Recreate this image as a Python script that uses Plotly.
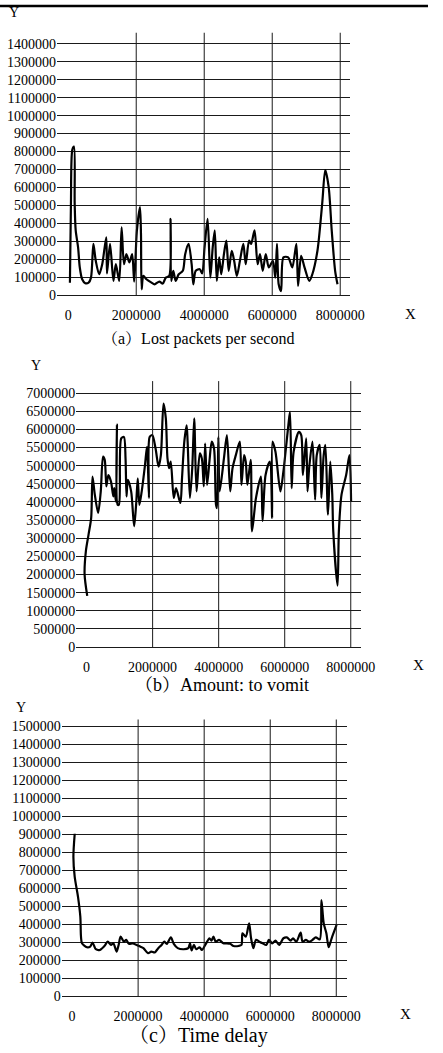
import plotly.graph_objects as go

# ---------------- data (x in millions) ----------------
# (a) Lost packets per second
XA = [0.05,0.08,0.12,0.17,0.19,0.22,0.29,0.34,0.41,0.50,0.60,0.67,0.74,0.81,0.91,1.00,1.12,1.14,1.23,1.33,
      1.40,1.50,1.57,1.64,1.71,1.80,1.88,1.94,2.02,2.11,2.14,2.16,2.21,2.30,2.45,2.54,2.68,2.78,2.87,2.97,
      3.01,3.03,3.09,3.16,3.25,3.37,3.44,3.54,3.63,3.68,3.75,3.87,3.94,4.01,4.10,4.18,4.25,4.31,4.37,4.44,
      4.50,4.58,4.65,4.72,4.81,4.88,4.96,5.05,5.15,5.22,5.32,5.38,5.48,5.57,5.64,5.72,5.81,5.90,6.02,6.09,
      6.14,6.19,6.26,6.33,6.47,6.59,6.71,6.76,6.85,6.95,7.09,7.18,7.33,7.47,7.56,7.66,7.75,7.85,7.92]
YA = [69000,510000,810000,828000,510000,360000,266000,154000,88000,66000,69000,97000,285000,191000,116000,172000,322000,120000,285000,79000,
      172000,79000,378000,172000,228000,182000,228000,75000,360000,490000,341000,32000,107000,88000,69000,60000,75000,64000,97000,107000,
      425000,79000,135000,79000,116000,135000,228000,285000,172000,60000,135000,144000,120000,266000,425000,97000,266000,360000,79000,210000,
      116000,228000,303000,135000,247000,191000,107000,191000,285000,172000,303000,285000,360000,172000,228000,135000,228000,154000,191000,97000,
      285000,60000,22000,210000,210000,154000,285000,51000,219000,154000,79000,116000,247000,510000,697000,603000,360000,135000,60000]

# (b) Amount: to vomit
XB = [0.02,-0.06,-0.02,0.06,0.14,0.18,0.25,0.35,0.43,0.50,0.55,0.60,0.66,0.74,0.81,0.84,0.89,0.92,0.94,0.98,
      1.05,1.13,1.18,1.21,1.25,1.35,1.44,1.50,1.55,1.60,1.67,1.77,1.83,1.89,1.91,1.99,2.09,2.18,2.25,2.33,
      2.40,2.45,2.50,2.55,2.64,2.71,2.84,2.89,2.96,3.03,3.06,3.13,3.20,3.26,3.33,3.43,3.49,3.55,3.59,3.65,
      3.72,3.79,3.86,3.92,3.95,3.99,4.03,4.16,4.25,4.35,4.42,4.52,4.64,4.69,4.77,4.82,4.87,4.97,5.01,5.13,
      5.28,5.33,5.42,5.55,5.62,5.63,5.72,5.87,5.96,6.11,6.16,6.21,6.27,6.43,6.50,6.55,6.65,6.69,6.74,6.84,
      6.92,6.97,7.06,7.11,7.18,7.23,7.31,7.38,7.44,7.47,7.60,7.64,7.72,7.86,7.96,8.01]
YB = [1410000,2010000,2650000,3100000,3560000,4700000,4200000,3700000,4290000,5250000,5160000,4430000,4740000,4560000,4150000,4380000,4010000,6130000,3920000,3920000,
      5750000,5790000,5200000,4150000,4610000,4290000,3330000,3920000,4650000,3920000,4290000,5020000,5520000,4110000,5790000,5840000,5470000,4970000,5290000,6710000,
      6300000,5200000,4930000,5110000,4110000,4380000,3970000,4650000,5660000,6110000,5660000,4110000,4930000,6300000,4290000,5340000,5200000,4430000,5610000,4470000,
      5110000,5660000,5470000,3920000,3830000,5790000,4290000,5200000,5840000,4290000,4930000,5290000,5660000,4470000,5290000,5110000,4470000,5160000,3190000,4110000,
      4700000,3470000,4740000,5110000,3560000,5660000,5380000,4290000,4840000,6110000,6480000,4380000,5380000,5930000,5840000,4740000,5750000,4290000,4930000,5660000,
      4060000,5290000,5570000,4110000,5290000,5570000,3650000,5110000,4200000,3190000,1690000,3190000,4200000,4740000,5290000,4010000]

# (c) Time delay
XC = [0.08,0.04,0.08,0.18,0.25,0.27,0.30,0.45,0.55,0.62,0.72,0.84,0.98,1.08,1.18,1.25,1.35,1.41,1.47,1.57,
      1.64,1.72,1.83,1.96,2.06,2.16,2.30,2.40,2.50,2.61,2.71,2.79,2.87,2.99,3.08,3.20,3.38,3.52,3.57,3.62,
      3.69,3.76,3.86,3.93,4.06,4.16,4.22,4.28,4.35,4.45,4.58,4.69,4.79,4.89,5.04,5.13,5.16,5.26,5.36,5.42,
      5.49,5.57,5.67,5.77,5.88,5.96,6.06,6.16,6.27,6.40,6.50,6.62,6.69,6.79,6.92,6.98,7.08,7.18,7.28,7.38,
      7.50,7.55,7.62,7.70,7.77,7.86,8.01]
YC = [904000,775000,664000,553000,443000,332000,295000,273000,277000,299000,262000,258000,280000,304000,286000,295000,249000,286000,332000,304000,
      314000,292000,295000,286000,277000,268000,240000,249000,244000,268000,286000,304000,292000,328000,292000,268000,262000,268000,295000,255000,
      286000,262000,273000,258000,295000,323000,310000,332000,304000,314000,295000,295000,292000,280000,280000,286000,351000,332000,406000,323000,
      268000,314000,304000,295000,286000,314000,295000,310000,286000,323000,328000,310000,323000,304000,354000,304000,314000,304000,314000,328000,
      317000,535000,406000,351000,273000,323000,397000]

X_TICKS = [0, 2, 4, 6, 8]
X_TICK_LABELS = ["0", "2000000", "4000000", "6000000", "8000000"]
X_GRID = [2, 4, 6, 8]
YA_TICKS = [0,100000,200000,300000,400000,500000,600000,700000,800000,900000,1000000,1100000,1200000,1300000,1400000]
YB_TICKS = [0,500000,1000000,1500000,2000000,2500000,3000000,3500000,4000000,4500000,5000000,5500000,6000000,6500000,7000000]
YC_TICKS = [0,100000,200000,300000,400000,500000,600000,700000,800000,900000,1000000,1100000,1200000,1300000,1400000,1500000]
CAPTIONS = ["（a）Lost packets per second", "（b）Amount: to vomit", "（c）Time delay"]

# ---------------- layout ----------------
W, H = 443, 1053
SERIF = "Liberation Serif, Times New Roman, Noto Serif CJK SC, Noto Sans CJK SC, serif"
GRID = "#1a1a1a"

panels = [
    dict(x=XA, y=YA, yt=YA_TICKS, xd=(59, 362), yd=(33, 297.3), xr=(-0.33, 8.28), yr=(0, 1462000),
         ylab=(15, 13), xlab=(425, 316), cap=(205, 342), capsize=16),
    dict(x=XB, y=YB, yt=YB_TICKS, xd=(79, 374), yd=(384, 652), xr=(-0.31, 8.32), yr=(0, 7330000),
         ylab=(37, 368), xlab=(433, 670), cap=(230, 690), capsize=18),
    dict(x=XC, y=YC, yt=YC_TICKS, xd=(64, 359), yd=(725, 1004), xr=(-0.31, 8.32), yr=(0, 1539000),
         ylab=(22, 713), xlab=(420, 1022), cap=(205, 1043), capsize=20),
]

fig = go.Figure()
layout = dict(width=W, height=H, margin=dict(l=0, r=0, t=0, b=0),
              paper_bgcolor="white", plot_bgcolor="white", showlegend=False,
              font=dict(family=SERIF, color="black", size=14))
annotations = []
shapes = []

for i, p in enumerate(panels, start=1):
    xa = "x" if i == 1 else f"x{i}"
    ya = "y" if i == 1 else f"y{i}"
    fig.add_trace(go.Scatter(x=p["x"], y=p["y"], mode="lines", xaxis=xa, yaxis=ya,
                             line=dict(color="black", width=2.2, shape="spline", smoothing=0.8),
                             hoverinfo="skip"))
    xk = "xaxis" if i == 1 else f"xaxis{i}"
    yk = "yaxis" if i == 1 else f"yaxis{i}"
    layout[xk] = dict(domain=[p["xd"][0] / W, p["xd"][1] / W], range=list(p["xr"]), anchor=ya,
                      tickvals=X_TICKS, ticktext=X_TICK_LABELS, showgrid=False, zeroline=False,
                      showline=False, ticks="", ticklabelstandoff=10,
                      tickfont=dict(family=SERIF, size=14, color="black"))
    layout[yk] = dict(domain=[1 - p["yd"][1] / H, 1 - p["yd"][0] / H], range=list(p["yr"]), anchor=xa,
                      tickvals=p["yt"], ticktext=[str(v) for v in p["yt"]], showgrid=True,
                      gridcolor=GRID, gridwidth=1, zeroline=True, zerolinecolor=GRID, zerolinewidth=1,
                      showline=False, ticks="", tickfont=dict(family=SERIF, size=14, color="black"))
    for gx in X_GRID:
        shapes.append(dict(type="line", xref=xa, yref=f"{ya} domain", x0=gx, x1=gx, y0=0, y1=1,
                           line=dict(color=GRID, width=1)))
    annotations.append(dict(text="Y", x=p["ylab"][0] / W, y=1 - p["ylab"][1] / H, xref="paper", yref="paper",
                            showarrow=False, xanchor="center", yanchor="middle",
                            font=dict(family=SERIF, size=14, color="black")))
    annotations.append(dict(text="X", x=p["xlab"][0] / W, y=1 - p["xlab"][1] / H, xref="paper", yref="paper",
                            showarrow=False, xanchor="center", yanchor="middle",
                            font=dict(family=SERIF, size=15, color="black")))
    annotations.append(dict(text=CAPTIONS[i - 1], x=p["cap"][0] / W, y=1 - p["cap"][1] / H, xref="paper",
                            yref="paper", showarrow=False, xanchor="center", yanchor="middle",
                            font=dict(family=SERIF, size=p["capsize"], color="black")))

shapes.append(dict(type="line", xref="paper", yref="paper", x0=0, x1=1, y0=1 - 6 / H, y1=1 - 6 / H,
                   line=dict(color="black", width=2.5)))
layout["annotations"] = annotations
layout["shapes"] = shapes
fig.update_layout(**layout)
fig.write_html("out.html", config={"displayModeBar": False},
               post_script="document.body.style.margin='0px';document.body.style.overflow='hidden';")
